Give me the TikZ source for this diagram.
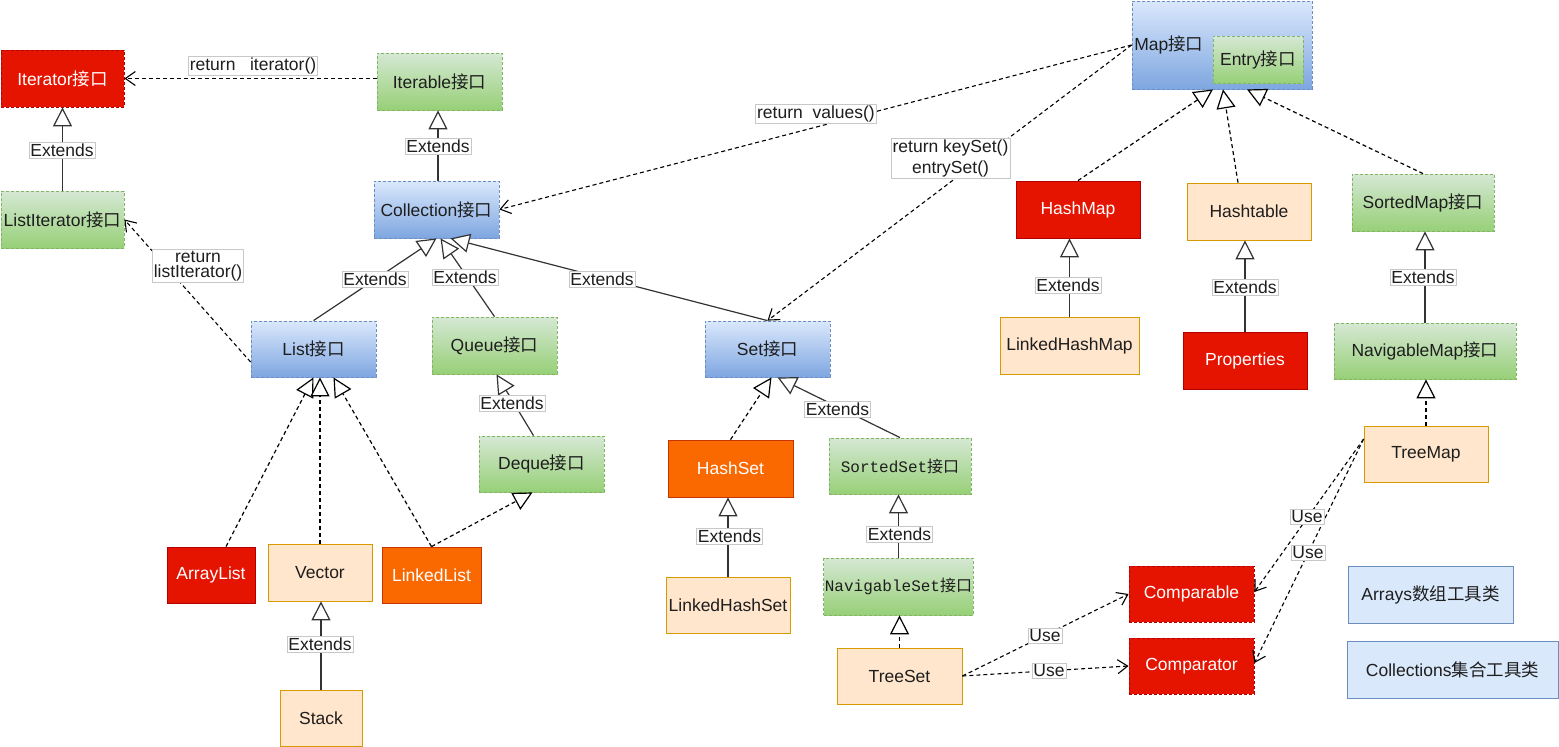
\documentclass[tikz,border=0pt]{standalone}
\usepackage{fontspec}
\setmainfont{Liberation Sans}
\newfontfamily\cjk{Noto Sans CJK SC}
\newfontfamily\monof{Liberation Mono}
\usetikzlibrary{arrows.meta,calc}
\definecolor{redf}{HTML}{E51400}
\definecolor{redd}{HTML}{B20000}
\definecolor{orangef}{HTML}{FA6800}
\definecolor{oranged}{HTML}{C73500}
\definecolor{peachf}{HTML}{FFE6CC}
\definecolor{peachd}{HTML}{D79B00}
\definecolor{greent}{HTML}{D5E8D4}
\definecolor{greenb}{HTML}{97D077}
\definecolor{greend}{HTML}{82B366}
\definecolor{bluet}{HTML}{DAE8FC}
\definecolor{blueb}{HTML}{7EA6E0}
\definecolor{blued}{HTML}{6C8EBF}
\definecolor{txt}{HTML}{1E1E1E}
\definecolor{lblgray}{HTML}{C8C8C8}
\definecolor{edgec}{HTML}{333333}
\newcommand\JK{{\cjk 接口}}
\begin{document}
\begin{tikzpicture}[x=1pt,y=-1pt,
  box/.style={inner sep=1pt, font=\fontsize{17.5}{20}\selectfont, text=txt, line width=0.8pt, minimum height=57},
  redbox/.style={box, fill=redf, draw=redd, text=white},
  reddash/.style={redbox, dash pattern=on 3pt off 2pt},
  orangebox/.style={box, fill=orangef, draw=oranged, text=white},
  peachbox/.style={box, fill=peachf, draw=peachd},
  greenbox/.style={box, top color=greent, bottom color=greenb, draw=greend, dash pattern=on 3pt off 2pt},
  bluebox/.style={box, top color=bluet, bottom color=blueb, draw=blued, dash pattern=on 3pt off 2pt},
  lightbluebox/.style={box, fill=bluet, draw=blued},
  mono/.style={font=\monof\fontsize{16}{18}\selectfont},
  lbl/.style={fill=white, draw=lblgray, line width=0.6pt, inner sep=1.5pt, text=txt, font=\fontsize{17.5}{19}\selectfont},
  ext/.style={draw=edgec, line width=1.2pt, -{Triangle[length=19pt,width=19pt,fill=white]}},
  impl/.style={ext, draw=black, dash pattern=on 4pt off 3pt},
  ret/.style={draw=black, line width=1.1pt, dash pattern=on 4pt off 3pt, -{Straight Barb[length=10pt,width=14pt]}}
]
\useasboundingbox (0,0) rectangle (1559,747);

% ---------- nodes ----------
\node[reddash, minimum width=123] (iterator) at (62.5,78.5) {Iterator\JK};
\node[greenbox, minimum width=125] (iterable) at (439.5,81.5) {Iterable\JK};
\node[greenbox, minimum width=123] (listiter) at (62.5,219.5) {ListIterator\JK};
\node[bluebox, minimum width=125] (collection) at (436.5,209.5) {Collection\JK};
\node[bluebox, minimum width=125, minimum height=56] (list) at (313.5,349) {List\JK};
\node[greenbox, minimum width=125] (queue) at (494.5,345.5) {Queue\JK};
\node[greenbox, minimum width=125, minimum height=56] (deque) at (541.5,464) {Deque\JK};
\node[bluebox, minimum width=125, minimum height=56] (set) at (767.5,349) {Set\JK};
\node[orangebox, minimum width=125] (hashset) at (730.5,468.5) {HashSet};
\node[greenbox, mono, minimum width=142, minimum height=56] (sortedset) at (900,466) {SortedSet\JK};
\node[peachbox, minimum width=124, minimum height=56] (linkedhashset) at (728,605) {LinkedHashSet};
\node[greenbox, mono, minimum width=149] (navset) at (898.5,586.5) {NavigableSet\JK};
\node[peachbox, minimum width=125, minimum height=56] (treeset) at (899.5,676) {TreeSet};
\node[redbox, minimum width=88, minimum height=56] (arraylist) at (211,575) {ArrayList};
\node[peachbox, minimum width=104] (vector) at (320,572.5) {Vector};
\node[orangebox, minimum width=99, minimum height=56] (linkedlist) at (431.5,575) {LinkedList};
\node[peachbox, minimum width=82, minimum height=56] (stack) at (321,718) {Stack};

\node[bluebox, minimum width=180, minimum height=88] (map) at (1222,45) {};
\node[box, minimum height=0, anchor=west] (maptext) at (1133,45) {Map\JK};
\node[greenbox, minimum width=90, minimum height=47] (entry) at (1258,59.5) {Entry\JK};
\node[redbox, minimum width=124] (hashmap) at (1078,209.5) {HashMap};
\node[peachbox, minimum width=124] (hashtable) at (1249,211.5) {Hashtable};
\node[greenbox, minimum width=142] (sortedmap) at (1423,202.5) {SortedMap\JK};
\node[peachbox, minimum width=139] (linkedhashmap) at (1069.5,345.5) {LinkedHashMap};
\node[redbox, minimum width=124] (properties) at (1245,360.5) {Properties};
\node[greenbox, minimum width=182, minimum height=56] (navmap) at (1425,351) {NavigableMap\JK};
\node[peachbox, minimum width=124, minimum height=56] (treemap) at (1426,454) {TreeMap};
\node[reddash, minimum width=125, minimum height=56] (comparable) at (1191.5,594) {Comparable};
\node[reddash, minimum width=125, minimum height=56] (comparator) at (1191.5,666) {Comparator};
\node[lightbluebox, minimum width=165] (arrays) at (1430.5,594.5) {Arrays{\cjk 数组工具类}};
\node[lightbluebox, minimum width=211] (collections) at (1452.5,669.5) {Collections{\cjk 集合工具类}};

% ---------- connectors ----------
\draw[ret] (iterator.east -| iterable.west) -- (iterator.east);
\draw[ext] (listiter.north) -- (iterator.south);
\draw[ext] (collection.north -| 438,0) -- (iterable.south -| 438,0);
\draw[ret] ([yshift=-13pt]list.west) -- (listiter.east);
\draw[ext] (list.north) -- (collection.south);
\draw[ext] (queue.north) -- ([xshift=4pt]collection.south);
\draw[ext] (set.north) -- ([xshift=14pt]collection.south);
\draw[ext] ([xshift=-8pt]deque.north) -- ([xshift=2pt]queue.south);
\draw[impl] ([xshift=15pt]arraylist.north) -- (list.south);
\draw[impl] (vector.north) -- ([xshift=6.5pt]list.south);
\draw[impl] (linkedlist.north) -- ([xshift=20pt]list.south);
\draw[impl] (linkedlist.north) -- ([xshift=-9pt]deque.south);
\draw[ext] (stack.north) -- (stack.north |- vector.south);

\draw[ret] (map.west) -- (collection.east);
\draw[ret] (map.west) -- (set.north);
\draw[impl] (hashset.north) -- ([xshift=4pt]set.south);
\draw[ext] (sortedset.north) -- ([xshift=10pt]set.south);
\draw[ext] (linkedhashset.north) -- (linkedhashset.north |- hashset.south);
\draw[ext] (navset.north) -- (navset.north |- sortedset.south);
\draw[impl] (treeset.north) -- (treeset.north |- navset.south);

\draw[impl] (hashmap.north) -- ([xshift=-9pt]map.south);
\draw[impl] ([xshift=-11pt]hashtable.north) -- ([xshift=1pt]map.south);
\draw[impl] (sortedmap.north) -- ([xshift=25pt]map.south);
\draw[ext] (linkedhashmap.north) -- (linkedhashmap.north |- hashmap.south);
\draw[ext] (properties.north) -- (properties.north |- hashtable.south);
\draw[ext] (navmap.north) -- (navmap.north |- sortedmap.south);
\draw[impl] (treemap.north) -- (treemap.north |- navmap.south);

\coordinate (tmstart) at ([yshift=15pt]treemap.west);
\draw[ret] (tmstart) -- ([yshift=2pt]comparable.east);
\draw[ret] (tmstart) -- ([yshift=3pt]comparator.east);
\draw[ret] (treeset.east) -- (comparable.west);
\draw[ret] (treeset.east) -- (comparator.west);

% ---------- labels ----------
\node[lbl] (lretit) at (253,66) {return\ \ \ iterator()};
\node[lbl] (le1) at (62,150) {Extends};
\node[lbl] (le2) at (438,146) {Extends};
\node[lbl, align=center, font=\fontsize{17.5}{15}\selectfont] (lretli) at (198,266) {return\\listIterator()};
\node[lbl] (le3) at (375,279) {Extends};
\node[lbl] (le4) at (465,277) {Extends};
\node[lbl] (le5) at (602,279) {Extends};
\node[lbl] (le6) at (512,403) {Extends};
\node[lbl] (le7) at (320,644.5) {Extends};
\node[lbl] (le8) at (729.5,536) {Extends};
\node[lbl] (le9) at (837.5,409) {Extends};
\node[lbl] (le10) at (899.5,534.5) {Extends};
\node[lbl] (lvalues) at (816,113.5) {return\ \ values()};
\node[lbl, align=center, font=\fontsize{17.5}{21}\selectfont] (lkeyset) at (950.5,158.5) {return keySet()\\entrySet()};
\node[lbl] (le11) at (1068,285) {Extends};
\node[lbl] (le12) at (1245,287) {Extends};
\node[lbl] (le13) at (1423,277) {Extends};
\node[lbl] (luse1) at (1307,517) {Use};
\node[lbl] (luse2) at (1308,553) {Use};
\node[lbl] (luse3) at (1045,636) {Use};
\node[lbl] (luse4) at (1049,671) {Use};
\end{tikzpicture}
\end{document}
